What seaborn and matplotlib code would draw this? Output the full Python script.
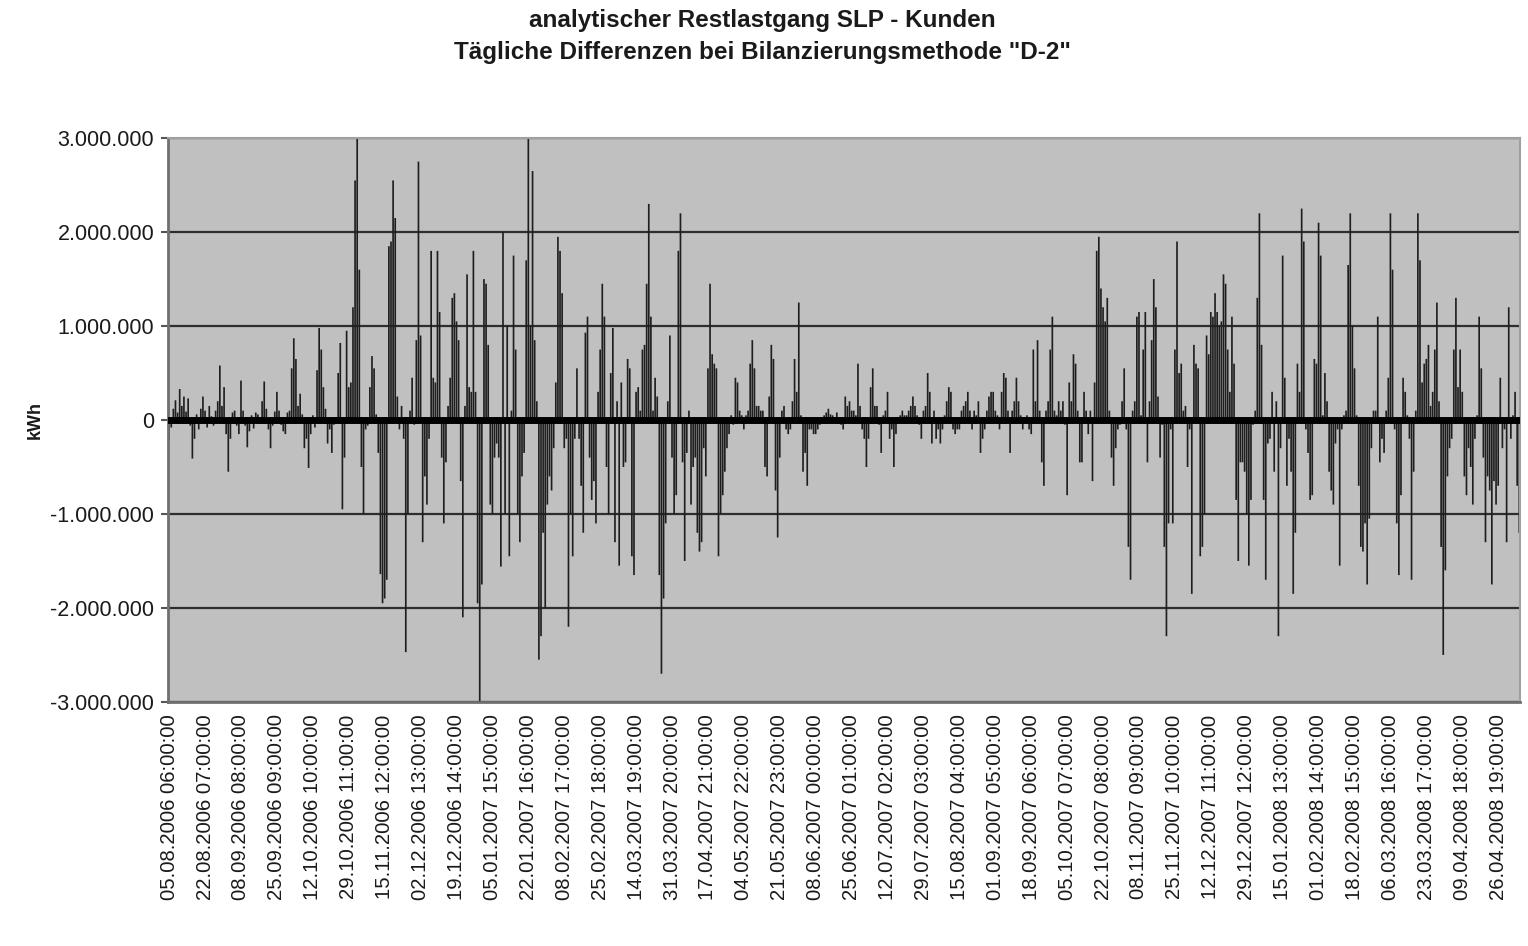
import numpy as np
import pandas as pd
import seaborn as sns
import matplotlib.pyplot as plt

# labels on the category axis (every 17th day)
tick_dates = [
    "05.08.2006 06:00:00", "22.08.2006 07:00:00", "08.09.2006 08:00:00", "25.09.2006 09:00:00",
    "12.10.2006 10:00:00", "29.10.2006 11:00:00", "15.11.2006 12:00:00", "02.12.2006 13:00:00",
    "19.12.2006 14:00:00", "05.01.2007 15:00:00", "22.01.2007 16:00:00", "08.02.2007 17:00:00",
    "25.02.2007 18:00:00", "14.03.2007 19:00:00", "31.03.2007 20:00:00", "17.04.2007 21:00:00",
    "04.05.2007 22:00:00", "21.05.2007 23:00:00", "08.06.2007 00:00:00", "25.06.2007 01:00:00",
    "12.07.2007 02:00:00", "29.07.2007 03:00:00", "15.08.2007 04:00:00", "01.09.2007 05:00:00",
    "18.09.2007 06:00:00", "05.10.2007 07:00:00", "22.10.2007 08:00:00", "08.11.2007 09:00:00",
    "25.11.2007 10:00:00", "12.12.2007 11:00:00", "29.12.2007 12:00:00", "15.01.2008 13:00:00",
    "01.02.2008 14:00:00", "18.02.2008 15:00:00", "06.03.2008 16:00:00", "23.03.2008 17:00:00",
    "09.04.2008 18:00:00", "26.04.2008 19:00:00",
]

# daily differences in 1000 kWh, one row per 17 days
diff_tkwh = [
    -220, -80, 120, 210, 80, 330, 150, 250, 90, 230, -60, -410, -200, 60, -100, 120, 250,
    100, -80, 150, 40, -60, 100, 200, 580, 150, 350, -150, -550, -200, 80, 100, -60, -150,
    420, 100, -60, -290, -120, 50, -90, 80, 60, -40, 200, 410, 120, -100, -300, -60, 90,
    300, 100, -50, -120, -150, 80, 100, 550, 870, 650, 150, 280, 60, -300, -200, -510, -150,
    50, -80, 530, 980, 750, 350, 120, -250, -100, -350, -50, -30, 500, 820, -950, -400, 950,
    350, 400, 1200, 2550, 3050, 1600, -500, -1000, -100, -60, 350, 680, 550, 60, -350, -1640, -1950,
    -1900, -1700, 1850, 1900, 2550, 2150, 250, -100, 150, -200, -2470, -1000, 100, 450, -50, 850, 2750,
    900, -1300, -600, -900, -200, 1800, 450, 400, 1800, 1150, -400, -1100, -450, 150, 450, 1300, 1350,
    1050, 850, -650, -2100, 150, 1550, 350, 300, 1800, 300, -1950, -3050, -1750, 1500, 1450, 800, -900,
    -1000, -400, -250, -400, -1560, 2000, -1000, 1000, -1450, 100, 1750, 750, -1000, -1300, -600, -350, 1700,
    3050, 1000, 2650, 850, 200, -2550, -2300, -1200, -2000, -900, -600, -750, -300, 400, 1950, 1800, 1350,
    -300, -200, -2200, -1000, -1450, -200, 550, -200, -700, -1200, 930, 1100, -400, -850, -650, -1100, 300,
    750, 1450, 1100, -500, -1000, 500, 980, -1300, 200, -1550, 400, -500, -450, 650, 550, -1450, -1650,
    300, 350, 100, 750, 800, 1450, 2300, 1100, 100, 450, 250, -1650, -2700, -1900, -1100, 200, 900,
    -400, -1000, -800, 1800, 2200, -450, -1500, -350, 100, -900, -500, -400, -1200, -1400, -1300, -300, -600,
    550, 1450, 700, 600, 550, -1450, -1000, -800, -550, -300, -150, 50, -50, 450, 400, 100, 50,
    -100, 50, 100, 600, 850, 550, 150, 150, 100, 100, -500, -600, 250, 800, 650, -750, -1250,
    -400, 100, 150, -100, -150, -100, 200, 650, 300, 1250, 50, -550, -350, -700, -100, -100, -150,
    -150, -100, -50, 30, 50, 80, 120, 60, 50, 30, 80, -30, -50, -100, 250, 150, 200,
    100, 100, 50, 600, 150, -100, -200, -500, -200, 350, 550, 150, 150, -50, -350, 50, 100,
    300, -200, -100, -500, -150, 30, 50, 100, 50, 50, 100, 150, 250, 150, 50, -50, -200,
    100, 150, 500, 300, -250, 100, -200, -100, -250, -100, 50, 200, 350, 300, -100, -150, -100,
    -100, 100, 150, 200, 300, 100, -100, 100, 50, 200, -350, -200, -100, 100, 250, 300, 300,
    100, 50, -100, 300, 500, 450, 100, -350, 100, 200, 450, 200, 50, -100, 30, 50, -100,
    -150, 750, 200, 850, 100, -450, -700, 100, 200, 750, 1100, 100, 50, 200, 100, 200, -50,
    -800, 400, 200, 700, 600, 100, -450, -450, 300, 100, -150, 100, -650, 400, 1800, 1950, 1400,
    1200, 1050, 1300, 100, -400, -700, -300, -100, -50, 200, 550, -100, -1350, -1700, 100, 200, 1100,
    1150, 50, 750, 1150, -450, 200, 850, 1500, 1200, 250, -400, -50, -1350, -2300, -1100, -100, -1100,
    750, 1900, 500, 600, 100, 150, -500, -100, -1850, 800, 600, 550, -1450, -1350, -1000, 900, 700,
    1150, 1100, 1350, 1150, 1000, 1050, 1550, 1450, 750, 300, 1100, 600, -850, -1500, -450, -450, -550,
    -1000, -1550, -850, -50, 100, 1300, 2200, 800, -850, -1700, -250, -200, 300, -550, 200, -2300, -300,
    1750, 450, -700, -200, -550, -1850, -1200, 600, 300, 2250, 1900, -100, -350, -850, -800, 650, 600,
    2100, 1750, 50, 500, 200, -550, -750, -900, -250, -100, -1550, -100, 50, 100, 1650, 2200, 1000,
    550, 50, -700, -1350, -1400, -1100, -1750, -1050, -300, 100, 100, 1100, -450, -200, -350, 100, 450,
    2200, 1600, -100, -1100, -1650, -800, 450, 300, 50, -200, -1700, -550, 100, 2200, 1700, 400, 600,
    650, 800, 150, 300, 750, 1250, 200, -1350, -2500, -1600, -600, -300, -200, 750, 1300, 350, 750,
    300, -600, -800, -300, -500, -900, -200, 50, 1100, 550, -400, -1300, -600, -750, -1750, -650, -900,
    -700, 450, -300, -100, -1300, 1200, -200, 50, 300, -700, -1200,
]

y_ticks = [-3000000, -2000000, -1000000, 0, 1000000, 2000000, 3000000]
y_labels = ["-3.000.000", "-2.000.000", "-1.000.000", "0", "1.000.000", "2.000.000", "3.000.000"]

df = pd.DataFrame({"tag": np.arange(len(diff_tkwh)), "kwh": np.array(diff_tkwh) * 1000})

sns.set_style("white")
plt.rcParams["font.family"] = ["Liberation Sans", "DejaVu Sans"]

fig = plt.figure(figsize=(15.28, 9.46), dpi=100)
ax = fig.add_axes([0.110, 0.258, 0.885, 0.596])
ax.set_facecolor("#c0c0c0")

sns.barplot(data=df, x="tag", y="kwh", color="#1e1e1e", saturation=1,
            width=0.8, linewidth=0, errorbar=None, ax=ax)
# no pixel snapping, so every thin bar gets the same soft width
for p in ax.patches:
    p.set_snap(False)

ax.set_axisbelow(True)
ax.yaxis.grid(True, color="#2e2e2e", lw=1.6)
ax.axhline(0, color="black", lw=5, zorder=4)

ax.set_xlim(-0.5, len(diff_tkwh) - 0.5)
ax.set_ylim(-3000000, 3000000)
ax.set_yticks(y_ticks)
ax.set_yticklabels(y_labels)
ax.set_xticks(np.arange(0, len(diff_tkwh), 17))
ax.set_xticklabels(tick_dates, rotation=90)
ax.set_xlabel("")
ax.set_ylabel("")

ax.tick_params(axis="x", length=0, pad=9, labelsize=14.6, labelcolor="#1a1a1a")
ax.tick_params(axis="y", length=5, width=1.5, color="#555555", direction="out",
               pad=5, labelsize=15.5, labelcolor="#1a1a1a", left=True)
for s in ["left", "bottom"]:
    ax.spines[s].set_color("#707070")
    ax.spines[s].set_linewidth(2)
for s in ["top", "right"]:
    ax.spines[s].set_color("#a0a0a0")
    ax.spines[s].set_linewidth(1.5)

fig.text(0.023, 0.556, "kWh", rotation=90, ha="center", va="center",
         fontsize=13, fontweight="bold", color="#1a1a1a")
fig.text(0.499, 1 - 20 / 946, "analytischer Restlastgang SLP - Kunden",
         ha="center", va="center", fontsize=17.5, fontweight="bold", color="#1a1a1a")
fig.text(0.499, 1 - 52 / 946, 'Tägliche Differenzen bei Bilanzierungsmethode "D-2"',
         ha="center", va="center", fontsize=17.5, fontweight="bold", color="#1a1a1a")

fig.savefig("out.png", dpi=100)
